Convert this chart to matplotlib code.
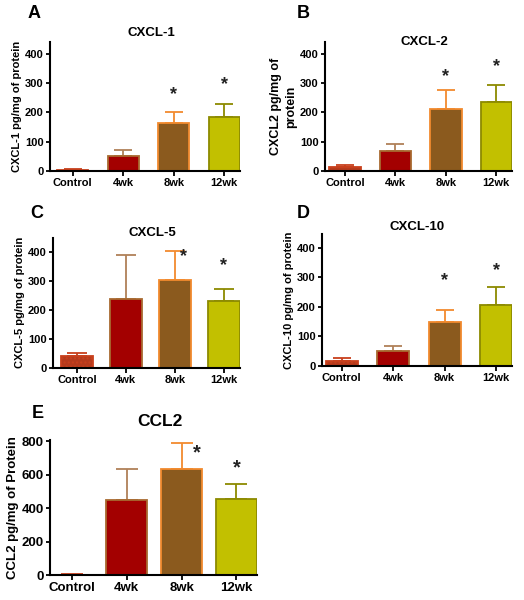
import matplotlib
matplotlib.use('Agg')
import matplotlib.pyplot as plt

plt.rcParams['font.family'] = ['Liberation Sans', 'DejaVu Sans']
plt.rcParams['font.weight'] = 'bold'
plt.rcParams['hatch.linewidth'] = 1.0
plt.rcParams['hatch.color'] = '#e06a3a'

groups = ['Control', '4wk', '8wk', '12wk']

# mean / upper SEM
cxcl1 = [5, 50, 163, 183]
cxcl1_err = [3, 23, 37, 45]
cxcl1_star = [None, None, 262, 295]

cxcl2 = [15, 67, 212, 237]
cxcl2_err = [5, 26, 63, 58]
cxcl2_star = [None, None, 323, 357]

cxcl5 = [40, 237, 302, 230]
cxcl5_err = [10, 153, 100, 42]
cxcl5_star = [None, None, 385, 352]

cxcl10 = [17, 52, 148, 205]
cxcl10_err = [11, 16, 40, 62]
cxcl10_star = [None, None, 288, 322]

ccl2 = [5, 450, 635, 458]
ccl2_err = [2, 185, 155, 87]
ccl2_star = [None, None, 728, 643]

fills = ['#b53a1c', '#a30000', '#8b5a1e', '#c2c000']
edges = ['#c8401c', '#a86a30', '#f28a2e', '#8c8a00']
errc = ['#c8401c', '#b08058', '#f28a2e', '#8c8a00']
hatches = ['....', None, None, None]

W, H = 524, 600
fig = plt.figure(figsize=(W / 100, H / 100), dpi=100)


def panel(rect, vals, err, stars, title, tpos, ylabel, ylim, yticks,
          width=0.62, xleft=-0.45, fs=8, tfs=9.5, yfs=8, star_dx=None):
    ax = fig.add_axes(rect)
    x = list(range(len(groups)))
    for i in x:
        ax.bar(i, vals[i], width=width, color=fills[i], edgecolor=edges[i],
               linewidth=1.3, hatch=hatches[i], zorder=2)
        ax.errorbar(i, vals[i], yerr=[[0], [err[i]]], color=errc[i],
                    capsize=width * 11, elinewidth=1.3, capthick=1.3, zorder=1)
        if stars[i] is not None:
            dx = 0 if star_dx is None else star_dx[i]
            ax.text(i + dx, stars[i], '*', ha='center', va='center',
                    fontsize=fs + 5, color='#222222')
    ax.set_xlim(xleft, 3 + width / 2)
    ax.set_ylim(*ylim)
    ax.set_yticks(yticks)
    ax.set_xticks(x)
    ax.set_xticklabels(groups, fontsize=fs, fontweight='bold')
    ax.tick_params(axis='y', labelsize=fs, width=1.3, length=3, pad=1.5)
    ax.tick_params(axis='x', width=1.3, length=3.5, pad=1.5)
    for s in ['top', 'right']:
        ax.spines[s].set_visible(False)
    for s in ['left', 'bottom']:
        ax.spines[s].set_linewidth(1.5)
    fig.text(tpos[0] / W, 1 - tpos[1] / H, title, fontsize=tfs,
             fontweight='bold', ha='center', va='center')
    ax.set_ylabel(ylabel, fontsize=yfs, fontweight='bold', labelpad=2,
                  linespacing=1.4)
    return ax


a = panel([0.0954, 0.715, 0.3626, 0.215], cxcl1, cxcl1_err, cxcl1_star,
          'CXCL-1', (151, 33), 'CXCL-1 pg/mg of protein', (0, 440), [0, 100, 200, 300, 400])
b = panel([0.620, 0.715, 0.357, 0.215], cxcl2, cxcl2_err, cxcl2_star,
          'CXCL-2', (424, 42), 'CXCL2 pg/mg of\nprotein', (0, 440), [0, 100, 200, 300, 400],
          xleft=-0.4, yfs=9)
c = panel([0.101, 0.387, 0.357, 0.217], cxcl5, cxcl5_err, cxcl5_star,
          'CXCL-5', (152, 233), 'CXCL-5 pg/mg of protein', (0, 450), [0, 100, 200, 300, 400],
          width=0.66, xleft=-0.49, star_dx=[0, 0, 0.17, 0])
d = panel([0.6145, 0.39, 0.3626, 0.22], cxcl10, cxcl10_err, cxcl10_star,
          'CXCL-10', (417, 227), 'CXCL-10 pg/mg of protein', (0, 447), [0, 100, 200, 300, 400],
          xleft=-0.38)
e = panel([0.0954, 0.041, 0.395, 0.225], ccl2, ccl2_err, ccl2_star,
          'CCL2', (160, 422), 'CCL2 pg/mg of Protein', (0, 805), [0, 200, 400, 600, 800],
          width=0.75, xleft=-0.4, fs=9.5, tfs=12.5, yfs=9.5, star_dx=[0, 0, 0.28, 0])

letters = [('A', 28, 18), ('B', 297, 18), ('C', 30, 218), ('D', 297, 218), ('E', 32, 418)]
for t, px, py in letters:
    fig.text(px / W, 1 - py / H, t, fontsize=13, fontweight='bold')

fig.savefig('out.png', dpi=100)
